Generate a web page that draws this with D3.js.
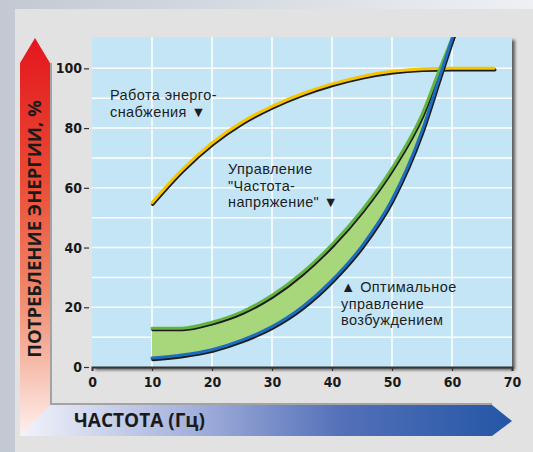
<!DOCTYPE html>
<html>
<head>
<meta charset="utf-8">
<script src="https://cdn.jsdelivr.net/npm/d3@7"></script>
<style>
  body { margin: 0; background: #e2e2e2; }
  svg { display: block; }
</style>
</head>
<body>
<svg></svg>
<script>
// Chart data
const freq = [10, 15, 20, 25, 30, 35, 40, 45, 50, 55, 58, 61];
const vfControl = [13, 13, 15, 18.5, 24, 31.5, 41, 52.5, 66.5, 84.5, 100, 115];
const optimalControl = [3, 4, 5.8, 9, 13.5, 20, 29, 40.5, 56, 79, 97.5, 116];
const supplyFreq = [10, 15, 20, 25, 30, 35, 40, 45, 50, 55, 60, 67];
const supplyPower = [55, 66, 75, 82, 87.3, 91.5, 94.8, 97.3, 99, 99.8, 100, 100];
const xTicks = [0, 10, 20, 30, 40, 50, 60, 70];
const yTicks = [0, 20, 40, 60, 80, 100];

const width = 533;
const height = 452;
const plot = { left: 92, right: 512, top: 37, bottom: 367 };

const svg = d3.select("svg").attr("width", width).attr("height", height);
const defs = svg.append("defs");

// gradients
const bgGrad = defs.append("linearGradient").attr("id", "bgGrad");
bgGrad.append("stop").attr("offset", "0%").attr("stop-color", "#c3c9d3");
bgGrad.append("stop").attr("offset", "100%").attr("stop-color", "#eef0f4");

const redGrad = defs.append("linearGradient").attr("id", "redGrad")
  .attr("x1", 0).attr("y1", 0).attr("x2", 0).attr("y2", 1);
redGrad.append("stop").attr("offset", "0%").attr("stop-color", "#e3161d");
redGrad.append("stop").attr("offset", "35%").attr("stop-color", "#ea4a34");
redGrad.append("stop").attr("offset", "65%").attr("stop-color", "#f08a6c");
redGrad.append("stop").attr("offset", "100%").attr("stop-color", "#fdf1ee");

const blueGrad = defs.append("linearGradient").attr("id", "blueGrad");
blueGrad.append("stop").attr("offset", "0%").attr("stop-color", "#f2f3fa");
blueGrad.append("stop").attr("offset", "35%").attr("stop-color", "#a4b1dc");
blueGrad.append("stop").attr("offset", "65%").attr("stop-color", "#5471b9");
blueGrad.append("stop").attr("offset", "100%").attr("stop-color", "#2456a6");

const shadow = defs.append("filter").attr("id", "shadow")
  .attr("x", "-5%").attr("y", "-5%").attr("width", "115%").attr("height", "115%");
shadow.append("feDropShadow").attr("dx", 3).attr("dy", 3)
  .attr("stdDeviation", 1.5).attr("flood-color", "#222").attr("flood-opacity", 0.7);

defs.append("clipPath").attr("id", "plotClip")
  .append("rect")
  .attr("x", plot.left).attr("y", plot.top)
  .attr("width", plot.right - plot.left).attr("height", plot.bottom - plot.top);

// background and panel
svg.append("rect").attr("width", width).attr("height", height).attr("fill", "url(#bgGrad)");
svg.append("rect").attr("x", 15).attr("y", 9).attr("width", width - 15).attr("height", height - 9)
  .attr("fill", "#e2e2e2");

// arrows
svg.append("path")
  .attr("d", "M20,63 L35,38 L50,63 L50,436 L20,436 Z")
  .attr("fill", "url(#redGrad)");
svg.append("path")
  .attr("d", "M50,405 L492,405 L512,421 L492,436 L20,436 Z")
  .attr("fill", "url(#blueGrad)");
svg.append("path")
  .attr("d", "M51,63 L51,404 L492,404")
  .attr("fill", "none").attr("stroke", "#a3a3a3").attr("stroke-width", 2);

// scales
const x = d3.scaleLinear().domain([0, 70]).range([plot.left, plot.right]);
const y = d3.scaleLinear().domain([0, 110.5]).range([plot.bottom, plot.top]);

// plot background with shadow
svg.append("rect")
  .attr("x", plot.left).attr("y", plot.top)
  .attr("width", plot.right - plot.left).attr("height", plot.bottom - plot.top)
  .attr("fill", "#c3e5f6")
  .attr("filter", "url(#shadow)");

// grid
const grid = svg.append("g").attr("stroke", "#ffffff").attr("stroke-width", 1.5);
grid.selectAll(".h")
  .data(d3.range(10, 101, 10))
  .join("line")
  .attr("x1", plot.left).attr("x2", plot.right)
  .attr("y1", (d) => y(d)).attr("y2", (d) => y(d));
grid.selectAll(".v")
  .data(d3.range(10, 61, 10))
  .join("line")
  .attr("y1", plot.top).attr("y2", plot.bottom)
  .attr("x1", (d) => x(d)).attr("x2", (d) => x(d));

// axes
const tickFont = "'Liberation Sans Narrow', 'DejaVu Sans Condensed', sans-serif";

const xAxis = svg.append("g")
  .attr("transform", `translate(0,${plot.bottom})`)
  .call(d3.axisBottom(x).tickValues(xTicks).tickSize(4).tickPadding(6));
xAxis.select(".domain").attr("stroke", "#333").attr("stroke-width", 2);
xAxis.selectAll(".tick line").attr("stroke", "#333").attr("stroke-width", 1.2);
xAxis.selectAll("text")
  .attr("fill", "#1a1a1a")
  .style("font-family", tickFont).style("font-weight", "bold").style("font-size", "14px");

const yAxis = svg.append("g")
  .attr("transform", `translate(${plot.left - 3},0)`)
  .call(d3.axisLeft(y).tickValues(yTicks).tickSize(5).tickPadding(2));
yAxis.select(".domain").remove();
yAxis.selectAll(".tick line").attr("stroke", "#333").attr("stroke-width", 1.2);
yAxis.selectAll("text")
  .attr("fill", "#1a1a1a")
  .style("font-family", tickFont).style("font-weight", "bold").style("font-size", "14px");

// curves
const curves = svg.append("g").attr("clip-path", "url(#plotClip)");

const area = d3.area()
  .x((d, i) => x(freq[i]))
  .y0((d, i) => y(optimalControl[i]))
  .y1((d, i) => y(vfControl[i]))
  .curve(d3.curveMonotoneX);

curves.append("path")
  .datum(freq)
  .attr("d", area)
  .attr("fill", "#a8d67a");

function drawCurve(xs, ys, color) {
  const line = d3.line()
    .x((d, i) => x(xs[i]))
    .y((d, i) => y(ys[i]))
    .curve(d3.curveMonotoneX);
  curves.append("path")
    .datum(ys)
    .attr("d", line)
    .attr("transform", "translate(0.8,1.4)")
    .attr("fill", "none")
    .attr("stroke", "#1b1b1b")
    .attr("stroke-width", 3.4)
    .attr("stroke-linecap", "round");
  curves.append("path")
    .datum(ys)
    .attr("d", line)
    .attr("fill", "none")
    .attr("stroke", color)
    .attr("stroke-width", 3)
    .attr("stroke-linecap", "round");
}

drawCurve(supplyFreq, supplyPower, "#f6c500");
drawCurve(freq, vfControl, "#63b33e");
drawCurve(freq, optimalControl, "#1c6cc0");

// annotations, one text per line
const noteFont = "'Liberation Sans', Arial, sans-serif";
function note(lines, px, py) {
  lines.forEach((s, i) => {
    svg.append("text")
      .attr("x", px).attr("y", py + i * 16.5)
      .attr("fill", "#1e1e1e")
      .style("font-family", noteFont).style("font-size", "14.5px")
      .style("letter-spacing", "0.4px")
      .text(s);
  });
}
note(["Работа энерго-", "снабжения ▼"], 110, 100);
note(["Управление", "\"Частота-", "напряжение\" ▼"], 228, 174);
note(["▲ Оптимальное", "управление", "возбуждением"], 341, 292);

// axis titles
const titleFont = "'Open Sans', 'Noto Sans', sans-serif";
svg.append("text")
  .attr("transform", "translate(41,229) rotate(-90)")
  .attr("text-anchor", "middle")
  .attr("fill", "#1a1a1a")
  .style("font-family", titleFont).style("font-weight", "bold").style("font-size", "18.5px")
  .text("ПОТРЕБЛЕНИЕ ЭНЕРГИИ, %");

svg.append("text")
  .attr("x", 74).attr("y", 427)
  .attr("fill", "#1a1a1a")
  .style("font-family", titleFont).style("font-weight", "bold").style("font-size", "19px")
  .text("ЧАСТОТА (Гц)");
</script>
</body>
</html>
